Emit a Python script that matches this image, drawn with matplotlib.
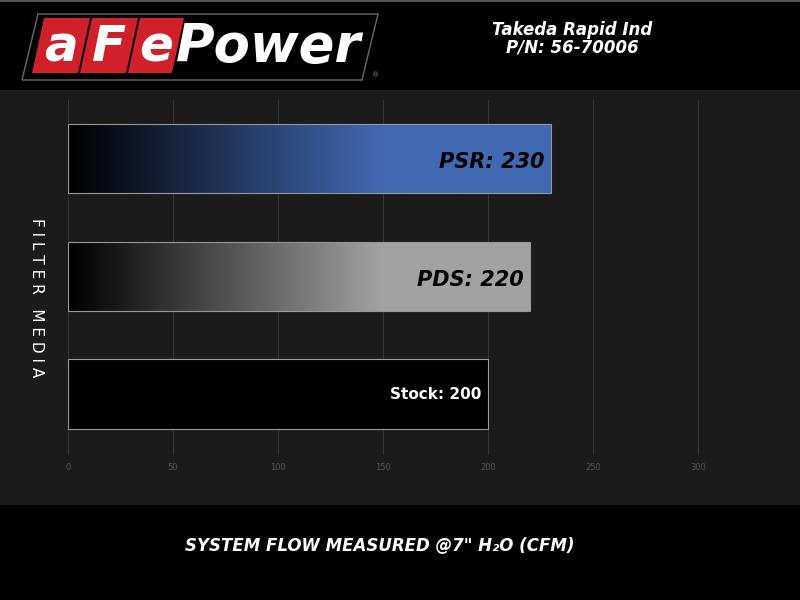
import numpy as np
import matplotlib.pyplot as plt
from matplotlib.colors import LinearSegmentedColormap
from matplotlib.patches import Polygon, Rectangle

# chart values
media = ["PSR", "PDS", "Stock"]
flow = [230, 220, 200]
labels = ["PSR: 230", "PDS: 220", "Stock: 200"]
end_colors = ["#4169b2", "#a2a2a2", "#000000"]
ticks = [0, 50, 100, 150, 200, 250, 300]

W, H = 800, 600


def px(x, y):
    # pixel position -> figure fraction
    return (x / W, 1 - y / H)


fig = plt.figure(figsize=(8, 6), dpi=100)
fig.patch.set_facecolor("black")

# textured middle band (flat approximation)
fig.patches.append(Rectangle(px(0, 505), 1, 415 / H, transform=fig.transFigure,
                             facecolor="#1b1b1b", edgecolor="none", zorder=-2))
# thin gray frame on the top edge
fig.patches.append(Rectangle(px(0, 2), 1, 2 / H, transform=fig.transFigure,
                             facecolor="#555555", edgecolor="none", zorder=-2))

# logo
outline = [px(22, 80), px(362, 80), px(378, 14), px(38, 14)]
fig.patches.append(Polygon(outline, closed=True, transform=fig.transFigure,
                           facecolor="black", edgecolor="#6a6a6a", lw=1.0, zorder=-1))
for (x0, x1), ch in zip([(32, 78), (80, 126), (128, 172)], ["a", "F", "e"]):
    box = [px(x0, 73), px(x1, 73), px(x1 + 12, 18), px(x0 + 12, 18)]
    fig.patches.append(Polygon(box, closed=True, transform=fig.transFigure,
                               facecolor="#d0202a", edgecolor="none", zorder=-1))
    fig.text(*px((x0 + x1) / 2 + 6, 47), ch, color="white", fontsize=36,
             fontweight="bold", fontstyle="italic", ha="center", va="center")
fig.text(*px(176, 47), "Power", color="white", fontsize=38, fontweight="bold",
         fontstyle="italic", ha="left", va="center")
fig.text(*px(376, 75), "®", color="#888888", fontsize=5, ha="center", va="center")

# header text
fig.text(*px(572, 30), "Takeda Rapid Ind", color="white", fontsize=12,
         fontweight="bold", fontstyle="italic", ha="center", va="center")
fig.text(*px(572, 48), "P/N: 56-70006", color="white", fontsize=12,
         fontweight="bold", fontstyle="italic", ha="center", va="center")

# plot area
left, right, top, bottom = 68, 800, 100, 455
ax = fig.add_axes([left / W, 1 - bottom / H, (right - left) / W, (bottom - top) / H])
ax.set_facecolor("none")
xmax = (right - left) / 2.1

ypos = np.arange(len(media))
bars = ax.barh(ypos, flow, height=0.593, color="none", edgecolor="#9a9a9a", lw=0.8, zorder=3)

for bar, val, c in zip(bars, flow, end_colors):
    cmap = LinearSegmentedColormap.from_list("g", ["#000000", c])
    xs = np.linspace(0, val, 300)
    grad = np.clip(xs / 150.0, 0, 1)[None, :]
    y0 = bar.get_y()
    y1 = y0 + bar.get_height()
    im = ax.imshow(grad, cmap=cmap, vmin=0, vmax=1, aspect="auto",
                   extent=[0, val, y1, y0], zorder=2, interpolation="bilinear")
    im.set_clip_path(bar)

for y, val, lab in zip(ypos, flow, labels):
    if lab.startswith("Stock"):
        ax.text(val - 3, y, lab, color="white", fontsize=11, fontweight="bold",
                ha="right", va="center", zorder=4)
    else:
        ax.text(val - 3, y + 0.03, lab, color="black", fontsize=15, fontweight="bold",
                fontstyle="italic", ha="right", va="center", zorder=4)

ax.set_xlim(0, xmax)
ax.set_ylim(2.513, -0.496)
ax.set_xticks(ticks)
ax.set_xticklabels([str(t) for t in ticks])
ax.tick_params(axis="x", length=0, labelsize=6, labelcolor="#555555", pad=6)
ax.set_yticks([])
ax.grid(axis="x", color="#363636", lw=0.7, zorder=1)
for s in ax.spines.values():
    s.set_visible(False)

# axis titles
fig.text(*px(36, 298), "F I L T E R   M E D I A", color="white", fontsize=11,
         rotation=270, ha="center", va="center")
fig.text(*px(380, 546), "SYSTEM FLOW MEASURED @7\" H\u2082O (CFM)", color="white",
         fontsize=12, fontweight="bold", fontstyle="italic", ha="center", va="center")

fig.savefig("out.png", dpi=100, facecolor=fig.get_facecolor())
